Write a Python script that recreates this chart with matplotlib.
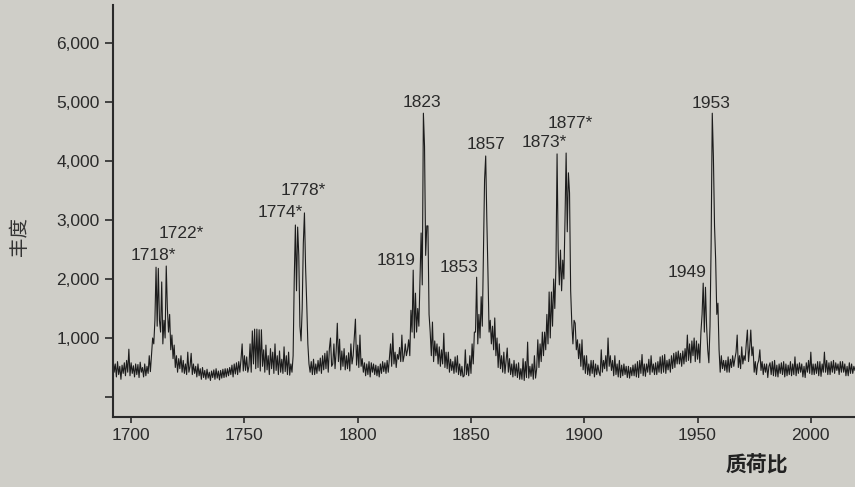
import numpy as np
import matplotlib
matplotlib.use("Agg")
import matplotlib.pyplot as plt

# spectrum: intensity every 0.5 m/z, starting at 1692 (one row = 10 m/z)
mz_start = 1692
mz_step = 0.5
intensity = [
    680, 420, 560, 340, 600, 380, 520, 300, 540, 400, 580, 360, 620, 420, 810, 360, 580, 400, 530, 340,          # 1692
    560, 380, 550, 330, 590, 420, 500, 340, 560, 360, 520, 400, 700, 430, 720, 1000, 900, 1300, 2200, 1200,      # 1702
    2180, 1300, 1100, 1950, 900, 1300, 1000, 2220, 1500, 1100, 1400, 800, 1050, 650, 880, 500, 700, 420, 650, 480, # 1712
    700, 420, 620, 400, 560, 380, 760, 420, 520, 740, 380, 560, 400, 520, 340, 560, 360, 480, 300, 500,          # 1722
    330, 450, 300, 470, 320, 420, 280, 440, 330, 460, 300, 480, 320, 440, 290, 450, 320, 470, 330, 480,          # 1732
    340, 480, 360, 500, 380, 540, 340, 560, 390, 580, 380, 600, 420, 640, 900, 440, 700, 450, 680, 420,          # 1742
    520, 900, 420, 1120, 560, 1150, 480, 1150, 500, 1140, 440, 1140, 520, 800, 420, 880, 460, 700, 380, 820,     # 1752
    480, 760, 400, 900, 450, 700, 380, 780, 420, 640, 400, 850, 430, 700, 380, 760, 370, 560, 420, 700,          # 1762
    2000, 2915, 1800, 2880, 2400, 1200, 950, 1500, 2600, 3120, 2200, 1590, 900, 560, 420, 600, 380, 640, 380, 560,  # 1772
    400, 620, 440, 660, 400, 700, 460, 740, 480, 780, 420, 820, 1000, 520, 560, 900, 480, 780, 1250, 600,        # 1782
    980, 460, 780, 520, 820, 460, 700, 480, 750, 440, 900, 560, 700, 1000, 1320, 540, 880, 500, 1050, 520,       # 1792
    650, 420, 580, 360, 560, 380, 600, 340, 580, 420, 560, 380, 540, 360, 520, 340, 560, 400, 600, 430,          # 1802
    580, 400, 620, 420, 650, 900, 520, 1080, 560, 760, 500, 720, 640, 840, 600, 1050, 600, 700, 900, 700,        # 1812
    800, 970, 700, 1470, 1100, 2150, 1000, 1760, 1100, 1500, 1200, 2000, 2780, 1900, 4810, 4250, 2400, 2900, 2900, 1400,  # 1822
    1100, 700, 1270, 600, 950, 700, 900, 560, 850, 520, 800, 560, 1080, 500, 760, 480, 760, 420, 640, 450,       # 1832
    600, 400, 680, 420, 700, 380, 560, 360, 520, 340, 360, 800, 380, 560, 360, 700, 400, 900, 560, 1100,         # 1842
    1100, 2030, 900, 1400, 1000, 1700, 1200, 2400, 3680, 4085, 3000, 2100, 1100, 1300, 900, 1200, 800, 1340, 700, 1000,  # 1852
    500, 900, 480, 700, 420, 760, 400, 620, 830, 420, 650, 380, 560, 340, 620, 360, 560, 330, 580, 300,          # 1862
    480, 300, 650, 280, 600, 330, 930, 320, 520, 350, 560, 300, 700, 320, 480, 970, 500, 900, 600, 1100,         # 1872
    700, 1100, 800, 1400, 900, 1780, 1000, 1780, 1200, 2000, 1500, 2200, 4120, 2490, 1900, 2490, 1800, 2320, 2000, 3000,  # 1882
    4135, 2800, 3800, 3460, 1800, 1250, 900, 1300, 1250, 800, 970, 650, 900, 520, 970, 460, 700, 400, 700, 380,  # 1892
    560, 360, 620, 400, 620, 340, 560, 380, 540, 420, 360, 800, 420, 620, 480, 700, 440, 1000, 520, 700,         # 1902
    450, 620, 360, 700, 380, 560, 340, 620, 330, 540, 360, 560, 380, 520, 330, 520, 320, 500, 360, 540,          # 1912
    360, 560, 340, 600, 330, 620, 400, 720, 360, 560, 350, 560, 420, 640, 380, 700, 420, 560, 380, 580,          # 1922
    380, 600, 420, 680, 400, 700, 420, 720, 400, 620, 460, 640, 420, 700, 480, 740, 500, 760, 560, 780,          # 1932
    560, 740, 520, 780, 560, 820, 600, 1050, 620, 900, 580, 950, 700, 1000, 600, 950, 640, 900, 580, 1100,       # 1942
    1400, 1930, 1100, 1860, 1200, 800, 580, 1200, 2600, 4810, 4070, 2900, 2320, 1400, 1590, 800, 420, 700, 480, 620,  # 1952
    450, 620, 420, 680, 420, 640, 500, 700, 520, 650, 760, 1050, 500, 700, 480, 850, 560, 700, 620, 900,         # 1962
    1135, 600, 820, 1135, 700, 850, 420, 600, 380, 560, 620, 800, 450, 600, 380, 560, 420, 560, 330, 520,        # 1972
    580, 380, 600, 360, 620, 350, 540, 340, 560, 400, 580, 380, 600, 340, 560, 360, 540, 380, 600, 360,          # 1982
    560, 380, 680, 360, 560, 400, 580, 420, 560, 340, 520, 330, 580, 420, 620, 400, 760, 380, 560, 380,          # 1992
    560, 400, 600, 360, 600, 350, 560, 420, 760, 420, 620, 380, 580, 380, 600, 420, 620, 400, 580, 450,          # 2002
    560, 380, 600, 420, 600, 420, 560, 360, 520, 360, 580, 400, 560, 400, 520, 450,                              # 2012
]

peak_labels = ["1718*", "1722*", "1774*", "1778*", "1819", "1823",
               "1853", "1857", "1873*", "1877*", "1949", "1953"]
# where each label sits (m/z of text centre, intensity of text baseline)
label_mz = [1709.9, 1722.2, 1765.7, 1776.1, 1817.1, 1828.4,
            1844.7, 1856.8, 1882.4, 1893.7, 1945.5, 1956.1]
label_y = [2322, 2695, 3051, 3424, 2237, 4915,
           2119, 4203, 4237, 4559, 2034, 4898]

x_ticks = [1700, 1750, 1800, 1850, 1900, 1950, 2000]
y_ticks = [0, 1000, 2000, 3000, 4000, 5000, 6000]
y_tick_labels = ["", "1,000", "2,000", "3,000", "4,000", "5,000", "6,000"]

mz = mz_start + mz_step * np.arange(len(intensity))

bg = "#cfcec8"
ink = "#1c1c1c"
plt.rcParams["font.family"] = ["Liberation Sans", "DejaVu Sans"]

fig = plt.figure(figsize=(8.55, 4.87), dpi=100, facecolor=bg)
ax = fig.add_axes([113 / 855, 70 / 487, 742 / 855, 412 / 487])
ax.set_facecolor(bg)

ax.plot(mz, intensity, color=ink, lw=0.8)

for lab, lx, ly in zip(peak_labels, label_mz, label_y):
    ax.text(lx, ly, lab, ha="center", va="baseline", fontsize=12.5, color="#2a2a2a")

ax.set_xlim(1692, 2019.5)
ax.set_ylim(-339, 6644)
ax.set_xticks(x_ticks)
ax.set_yticks(y_ticks)
ax.set_yticklabels(y_tick_labels)

for side in ["top", "right"]:
    ax.spines[side].set_visible(False)
for side in ["left", "bottom"]:
    ax.spines[side].set_color("#2a2a2a")
    ax.spines[side].set_linewidth(1.5)

ax.tick_params(axis="y", length=6, width=1.2, pad=3.5, labelsize=12.5, colors="#2a2a2a")
ax.tick_params(axis="x", length=4, width=1.2, pad=4, labelsize=12.5, colors="#2a2a2a")

cjk = ["Noto Sans CJK SC", "DejaVu Sans"]
fig.text(19 / 855, 1 - 237 / 487, "丰度", rotation=90, ha="center", va="center",
         fontsize=14, family=cjk, color="#333333")
fig.text(757 / 855, 1 - 465 / 487, "质荷比", ha="center", va="center",
         fontsize=15, family=cjk, weight="bold", color="#222222")

fig.savefig("out.png", dpi=100, facecolor=bg)
